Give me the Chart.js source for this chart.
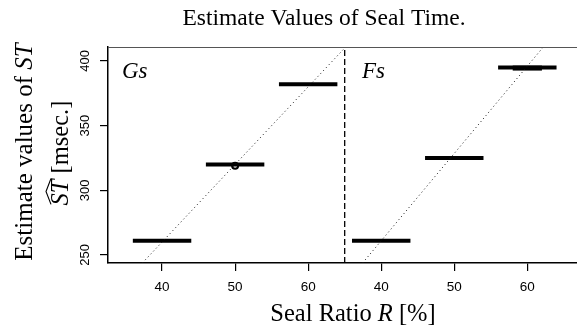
<!DOCTYPE html>
<html>
<head>
<meta charset="utf-8">
<script src="https://cdn.jsdelivr.net/npm/chart.js@4.4.1/dist/chart.umd.min.js"></script>
<style>
  html, body { margin: 0; padding: 0; background: #fff; }
  canvas { display: block; }
</style>
</head>
<body>
<canvas id="myChart" width="577" height="329"></canvas>
<script>
'use strict';

// Seal ratio groups (R [%]) and estimated seal time (msec.)
const ratioLow = [36, 46, 56];
const ratioHigh = [44, 54, 64];
const gsTime = [261, 320, 382];
const fsTime = [261, 325, 395];

// small box inside the last Fs bar
const fsBoxLow = [58];
const fsBoxHigh = [62];
const fsBoxTime = [394.5];

// outlier on Gs
const gsOutlierRatio = [50];
const gsOutlierTime = [319];

// fitted lines: [intercept, slope]
const gsFit = [20, 6];
const fsFit = [-9, 6.75];

const xTickLabels = [40, 50, 60];
const yTickValues = [250, 300, 350, 400];

// panel layout on the shared x axis
const fsShift = 30;
const panelSplit = 65;
const xMin = 32.6, xMax = 96.8;
const yMin = 243.8, yMax = 410.8;

const serif = '"Liberation Serif", "Times New Roman", serif';
const sans = '"Liberation Sans", Arial, sans-serif';

function barDatasets(time, shift, width, low, high) {
  var sets = [];
  for (var i = 0; i < time.length; i++) {
    sets.push({
      data: [{x: low[i] + shift, y: time[i]}, {x: high[i] + shift, y: time[i]}],
      borderColor: '#000',
      borderWidth: width,
      borderCapStyle: 'butt',
      pointRadius: 0,
      showLine: true
    });
  }
  return sets;
}

function fitLine(fit, shift, xLeft, xRight) {
  // from bottom of plot up to right limit or top of plot
  var x1 = (yMin - fit[0]) / fit[1];
  var x2 = Math.min(xRight - shift, (yMax - fit[0]) / fit[1]);
  x1 = Math.max(x1, xLeft - shift);
  return {
    data: [{x: x1 + shift, y: fit[0] + fit[1] * x1}, {x: x2 + shift, y: fit[0] + fit[1] * x2}],
    borderColor: '#111',
    borderWidth: 1,
    borderDash: [1, 3],
    pointRadius: 0,
    showLine: true
  };
}

var datasets = [];
datasets.push(fitLine(gsFit, 0, xMin, panelSplit));
datasets.push(fitLine(fsFit, fsShift, panelSplit, xMax));
datasets.push({
  data: [{x: panelSplit, y: yMin}, {x: panelSplit, y: yMax}],
  borderColor: '#000',
  borderWidth: 1.3,
  borderDash: [6, 3],
  pointRadius: 0,
  showLine: true
});
datasets = datasets.concat(barDatasets(gsTime, 0, 4, ratioLow, ratioHigh));
datasets = datasets.concat(barDatasets(fsTime, fsShift, 4, ratioLow, ratioHigh));
datasets = datasets.concat(barDatasets(fsBoxTime, fsShift, 5, fsBoxLow, fsBoxHigh));
datasets.push({
  data: gsOutlierRatio.map((r, i) => ({x: r, y: gsOutlierTime[i]})),
  pointRadius: 3,
  pointBorderWidth: 2,
  pointBorderColor: '#000',
  pointBackgroundColor: '#fff',
  showLine: false
});

function drawParts(ctx, parts, size) {
  var total = 0;
  parts.forEach(p => {
    ctx.font = (p.italic ? 'italic ' : '') + size + 'px ' + serif;
    p.w = ctx.measureText(p.text).width;
    total += p.w;
  });
  var x = -total / 2;
  parts.forEach(p => {
    ctx.font = (p.italic ? 'italic ' : '') + size + 'px ' + serif;
    p.x = x;
    ctx.fillText(p.text, x, 0);
    x += p.w;
  });
  return parts;
}

const textPlugin = {
  id: 'texts',
  afterDraw(chart) {
    var ctx = chart.ctx;
    var area = chart.chartArea;
    var yScale = chart.scales.y;
    ctx.save();
    ctx.fillStyle = '#000';
    ctx.textBaseline = 'alphabetic';
    ctx.textAlign = 'left';

    // top of box
    ctx.strokeStyle = '#555';
    ctx.lineWidth = 1;
    ctx.beginPath();
    ctx.moveTo(area.left, area.top + 0.5);
    ctx.lineTo(area.right, area.top + 0.5);
    ctx.stroke();

    // title
    ctx.save();
    ctx.translate(324, 25);
    drawParts(ctx, [{text: 'Estimate Values of Seal Time.'}], 23.5);
    ctx.restore();

    // x title
    ctx.save();
    ctx.translate(353, 321);
    drawParts(ctx, [{text: 'Seal Ratio '}, {text: 'R', italic: true}, {text: ' [%]'}], 24.5);
    ctx.restore();

    // y title, two lines
    ctx.save();
    ctx.translate(32, 152);
    ctx.rotate(-Math.PI / 2);
    drawParts(ctx, [{text: 'Estimate values of '}, {text: 'ST', italic: true}], 25);
    ctx.restore();

    ctx.save();
    ctx.translate(68, 153);
    ctx.rotate(-Math.PI / 2);
    var parts = drawParts(ctx, [{text: 'ST', italic: true}, {text: ' [msec.]'}], 24.5);
    var a = parts[0].x + 1, b = parts[0].x + parts[0].w + 1;
    ctx.lineWidth = 1.1;
    ctx.strokeStyle = '#000';
    ctx.beginPath();
    ctx.moveTo(a, -17);
    ctx.lineTo((a + b) / 2, -22);
    ctx.lineTo(b, -17);
    ctx.stroke();
    ctx.restore();

    // y tick labels, rotated
    ctx.font = '13px ' + sans;
    yTickValues.forEach(v => {
      ctx.save();
      ctx.translate(89, yScale.getPixelForValue(v));
      ctx.rotate(-Math.PI / 2);
      ctx.textAlign = 'center';
      ctx.fillText(String(v), 0, 0);
      ctx.restore();
    });

    // panel labels
    ctx.font = 'italic 23px ' + serif;
    ctx.textAlign = 'left';
    ctx.fillText('Gs', 122, 78);
    ctx.fillText('Fs', 362, 78);
    ctx.restore();
  }
};

var chart = new Chart(document.getElementById('myChart').getContext('2d'), {
  type: 'scatter',
  data: {datasets: datasets},
  options: {
    responsive: false,
    animation: false,
    devicePixelRatio: 1,
    layout: {autoPadding: false, padding: {top: 47, left: 0, right: 0, bottom: 0}},
    plugins: {legend: {display: false}, tooltip: {enabled: false}, title: {display: false}},
    scales: {
      x: {
        type: 'linear',
        min: xMin,
        max: xMax,
        afterBuildTicks: scale => {
          scale.ticks = xTickLabels.map(v => ({value: v}))
            .concat(xTickLabels.map(v => ({value: v + fsShift})));
        },
        afterFit: scale => {
          scale.height = 66;
          scale.paddingLeft = 0;
          scale.paddingRight = 0;
        },
        grid: {drawOnChartArea: false, drawTicks: true, tickLength: 8, color: '#000', lineWidth: 1.2},
        border: {display: true, color: '#000', width: 1.5},
        ticks: {
          color: '#000',
          padding: 8,
          maxRotation: 0,
          font: {family: sans, size: 13.5},
          callback: v => (v > panelSplit ? v - fsShift : v)
        }
      },
      y: {
        type: 'linear',
        min: yMin,
        max: yMax,
        afterBuildTicks: scale => {
          scale.ticks = yTickValues.map(v => ({value: v}));
        },
        afterFit: scale => {
          scale.width = 108;
          scale.paddingTop = 0;
          scale.paddingBottom = 0;
        },
        grid: {drawOnChartArea: false, drawTicks: true, tickLength: 8, color: '#000', lineWidth: 1.2},
        border: {display: true, color: '#000', width: 1.5},
        ticks: {display: false}
      }
    }
  },
  plugins: [textPlugin]
});
</script>
</body>
</html>
